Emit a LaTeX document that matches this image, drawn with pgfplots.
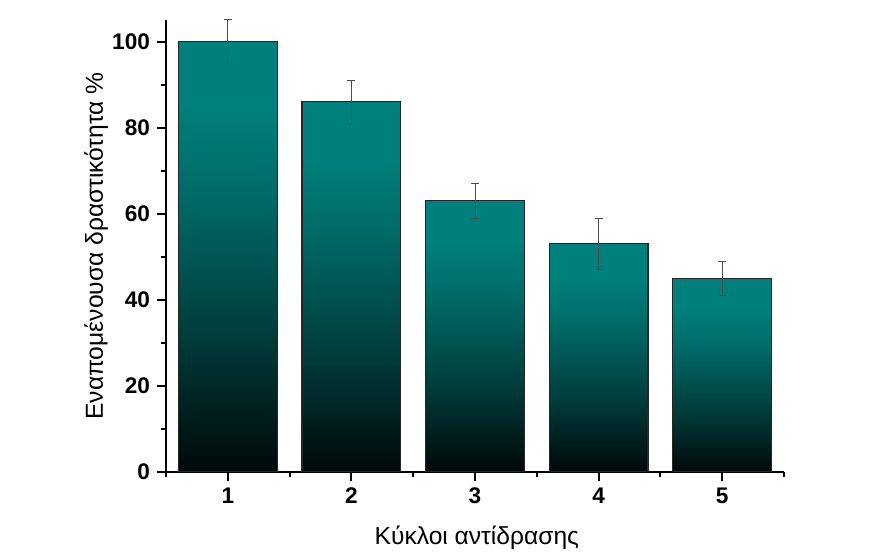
\documentclass[border=0pt]{standalone}
\usepackage{pgfplots}
\pgfplotsset{compat=1.18}
\usepackage{fontspec}
\setmainfont{Liberation Sans}
\definecolor{tealtop}{RGB}{0,128,125}
\definecolor{tealmid}{RGB}{0,108,105}
\definecolor{tealdark}{RGB}{0,58,56}
\definecolor{tealblack}{RGB}{0,8,8}
\pgfdeclareverticalshading{barshade}{100bp}{color(0bp)=(tealblack); color(25bp)=(tealblack); color(40bp)=(tealdark); color(58bp)=(tealmid); color(68bp)=(tealtop); color(75bp)=(tealtop); color(100bp)=(tealtop)}
\begin{document}
\begin{tikzpicture}
\begin{axis}[
  scale only axis, width=309pt, height=226pt,
  xmin=0.5, xmax=5.5, ymin=0, ymax=105,
  axis x line*=bottom, axis y line*=left,
  axis line style={-, line width=1pt, black},
  xtick={1,2,3,4,5}, minor xtick={0.5,1.5,2.5,3.5,4.5,5.5},
  ytick={0,20,40,60,80,100}, minor ytick={10,30,50,70,90},
  tick align=outside, major tick length=4.5pt, minor tick length=2.5pt,
  tick style={black, line width=1pt},
  /pgf/number format/assume math mode=true,
  ticklabel style={font=\bfseries\fontsize{11.3}{13}\selectfont},
  xlabel={Κύκλοι αντίδρασης},
  ylabel={Εναπομένουσα δραστικότητα \%},
  label style={font=\fontsize{12.3}{14}\selectfont},
  xlabel style={at={(axis description cs:0.503,-0.1615)}, anchor=base},
  ylabel style={at={(axis description cs:-0.102,0.5)}, anchor=base},
  ybar, bar width=0.8,
  barstyle/.style={shading=barshade, draw=black!85, line width=0.6pt, bar shift=0pt,
    error bars/.cd, y dir=both, y explicit,
    error bar style={line width=0.5pt, black!70},
    error mark options={rotate=90, mark size=2pt, line width=0.5pt, black!70}},
]
\addplot[barstyle] coordinates {(1,100) +- (0,5)};
\addplot[barstyle] coordinates {(2,86) +- (0,5)};
\addplot[barstyle] coordinates {(3,63) +- (0,4)};
\addplot[barstyle] coordinates {(4,53) +- (0,6)};
\addplot[barstyle] coordinates {(5,45) +- (0,4)};
\end{axis}
\path[use as bounding box] ([xshift=-83pt, yshift=-37.5pt]current axis.south west) rectangle ([xshift=363.5pt, yshift=236pt]current axis.south west);
\end{tikzpicture}
\end{document}
